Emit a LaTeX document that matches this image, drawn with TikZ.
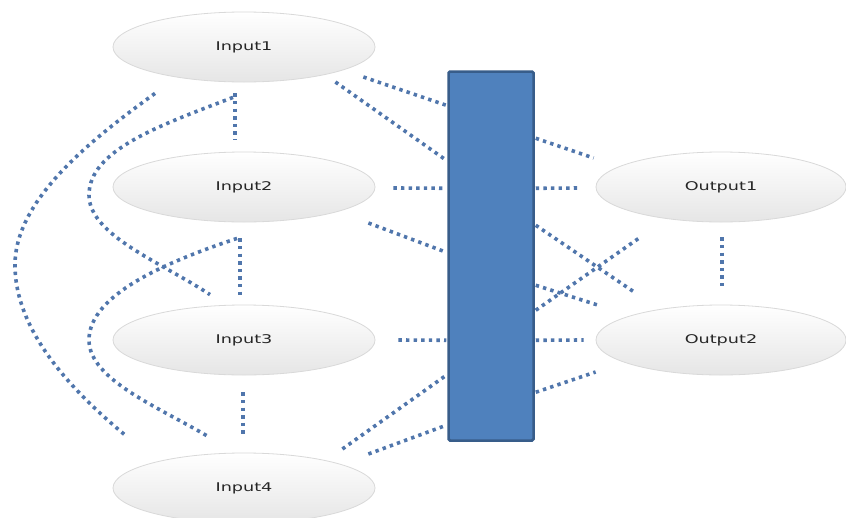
\documentclass[tikz,border=0pt]{standalone}
\usepackage{fontspec}
\setmainfont{DejaVu Sans}
\usepackage{graphicx}
\usepackage{tikz}
\usetikzlibrary{shapes.geometric,calc}

\definecolor{linkblue}{RGB}{80,118,172}
\definecolor{barfill}{RGB}{79,129,189}
\definecolor{barline}{RGB}{56,93,138}
\newcommand{\lbl}[1]{\scalebox{1.47}[1]{#1}}

\tikzset{
	blob/.style={ellipse, minimum width=262pt, minimum height=70pt, inner sep=0pt,
		draw=gray!30, line width=0.8pt, top color=white, bottom color=gray!20,
		text=black!85, font=\fontsize{12}{14}\selectfont},
	link/.style={draw=linkblue, line width=3.6pt, dash pattern=on 3.4pt off 4.2pt},
	barbox/.style={rectangle, rounded corners=1.5pt, minimum width=85pt, minimum height=369pt,
		fill=barfill, draw=barline, line width=2.5pt}
}

\begin{document}
\begin{tikzpicture}[x=1pt,y=-1pt]
		\useasboundingbox[fill=white] (0,0) rectangle (846,517);
		% nodes
		\node[blob] (in1) at (244,47) {\lbl{Input1}};
		\node[blob] (in2) at (244,187) {\lbl{Input2}};
		\node[blob] (in3) at (244,340) {\lbl{Input3}};
		\node[blob] (in4) at (244,488) {\lbl{Input4}};
		\node[blob, minimum width=250pt] (out1) at (721,187) {\lbl{Output1}};
		\node[blob, minimum width=250pt] (out2) at (721,340) {\lbl{Output2}};
		\node[barbox] (bar) at (491,256) {};
		% inputs to bar
		\foreach \src/\dx/\dy/\by in {in1/-12/30/35, in1/-40/35/90, in2/18/1/118, in2/-7/36/182,
			in3/23/0/270, in4/-33/-39/305, in4/-7/-34/355}
			\draw[link] ($(\src.east)+(\dx,\dy)$) -- ($(bar.north west)+(-1,\by)$);
		% bar to outputs
		\foreach \by/\dst/\dx/\dy in {68/out1/-2/-29, 118/out1/-15/1, 155/out2/40/-47, 240/out1/45/50,
			215/out2/2/-35, 270/out2/-12/0, 322/out2/0/32}
			\draw[link] ($(bar.north east)+(1,\by)$) -- ($(\dst.west)+(\dx,\dy)$);
		% straight neighbours
		\draw[link] ($(in1.south)+(-9,11)$) -- ($(in2.north)+(-9,-12)$);
		\draw[link] ($(in2.south)+(-4,16)$) -- ($(in3.north)+(-4,-8)$);
		\draw[link] ($(in3.south)+(-1,17)$) -- ($(in4.north)+(-1,-16)$);
		\draw[link] ($(out1.south)+(1,15)$) -- ($(out2.north)+(1,-17)$);
		% arcs on the left
		\draw[link] ($(in1.south)+(-89,11)$) .. controls +(-65,47) and +(0,-65) .. (15,265)
			.. controls +(0,65) and +(-57,-47) .. ($(in4.north)+(-117,-16)$);
		\draw[link] ($(in1.south)+(-11,15)$) .. controls +(-73,28) and +(0,-45) .. (89,195)
			.. controls +(0,40) and +(-50,-33) .. ($(in3.north)+(-34,-10)$);
		\draw[link] ($(in2.south)+(-7,16)$) .. controls +(-72,24) and +(0,-45) .. (89,340)
			.. controls +(0,40) and +(-50,-30) .. ($(in4.north)+(-34,-15)$);
\end{tikzpicture}
\end{document}
